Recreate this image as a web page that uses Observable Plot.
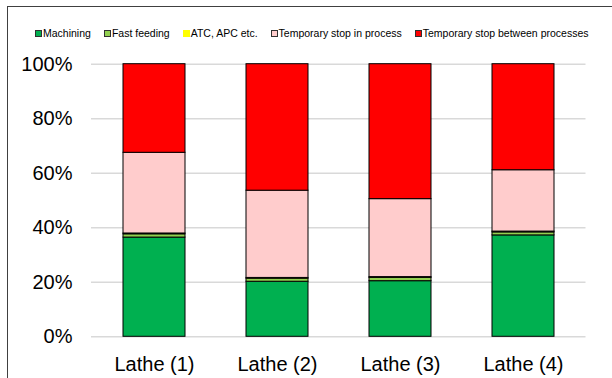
<!DOCTYPE html>
<html>
<head>
<meta charset="utf-8">
<script src="https://cdn.jsdelivr.net/npm/d3@7"></script>
<script src="https://cdn.jsdelivr.net/npm/@observablehq/plot@0.6"></script>
<style>
  html, body { margin: 0; padding: 0; background: #fff; }
  #wrap { position: relative; width: 612px; height: 378px; overflow: hidden; font-family: "Liberation Sans", Arial, sans-serif; }
  #frame { position: absolute; left: 7px; top: 6px; width: 640px; height: 400px; border: 1px solid #404040; box-sizing: border-box; }
  #legend { position: absolute; left: 35px; top: 26px; height: 14px; display: flex; align-items: center; gap: 13px; font-size: 10.5px; color: #000; white-space: nowrap; }
  .item { display: flex; align-items: center; }
  .sw { width: 5px; height: 5px; border: 1px solid #303030; margin-right: 1px; }
  .sw.noedge { border: none; width: 7px; height: 7px; }
  #chart { position: absolute; left: 0; top: 45px; }
</style>
</head>
<body>
<div id="wrap">
  <div id="frame"></div>
  <div id="legend"></div>
  <div id="chart"></div>
</div>
<script>
// Share of machine time per lathe, in percent of the total
const categories = ["Lathe (1)", "Lathe (2)", "Lathe (3)", "Lathe (4)"];
const seriesNames = [
  "Machining",
  "Fast feeding",
  "ATC, APC etc.",
  "Temporary stop in process",
  "Temporary stop between processes"
];
const machining     = [36.4, 20.2, 20.4, 37.2];
const fastFeeding   = [1.2, 1.1, 1.2, 1.1];
const atcApc        = [0.3, 0.3, 0.3, 0.3];
const stopInProcess = [29.6, 32.0, 28.6, 22.5];
const stopBetween   = [32.5, 46.4, 49.5, 38.9];
const seriesColors  = ["#00B050", "#92D050", "#FFFF00", "#FFCCCC", "#FF0000"];
const yTicks = [0, 20, 40, 60, 80, 100];

const seriesValues = [machining, fastFeeding, atcApc, stopInProcess, stopBetween];

// Long-format rows, stacked bottom-up in series order
const rows = [];
categories.forEach((cat, i) => {
  seriesNames.forEach((s, j) => {
    rows.push({category: cat, series: s, value: seriesValues[j][i]});
  });
});

// Legend row
const legend = document.getElementById("legend");
seriesNames.forEach((s, j) => {
  const item = document.createElement("div");
  item.className = "item";
  const sw = document.createElement("span");
  sw.className = "sw" + (s === "ATC, APC etc." ? " noedge" : "");
  sw.style.background = seriesColors[j];
  const label = document.createElement("span");
  label.textContent = s;
  item.appendChild(sw);
  item.appendChild(label);
  legend.appendChild(item);
});

const chart = Plot.plot({
  width: 612,
  height: 333,
  marginTop: 18.7,
  marginBottom: 41.7,
  marginLeft: 91,
  marginRight: 26.5,
  style: {fontFamily: "'Liberation Sans', Arial, sans-serif", fontSize: "20px", color: "#000", background: "transparent"},
  x: {domain: categories, paddingInner: 0.5, paddingOuter: 0.25, label: null},
  y: {domain: [0, 100], label: null},
  color: {domain: seriesNames, range: seriesColors},
  marks: [
    Plot.gridY(yTicks, {stroke: "#d9d9d9", strokeOpacity: 1, strokeWidth: 1.6}),
    Plot.barY(rows, Plot.stackY({
      x: "category",
      y: "value",
      z: "series",
      fill: "series",
      order: seriesNames,
      stroke: "#000",
      strokeWidth: 1
    })),
    Plot.axisY(yTicks, {tickSize: 0, tickPadding: 19, tickFormat: d => d + "%", fontSize: 20, label: null}),
    Plot.axisX({tickSize: 0, tickPadding: 20, fontSize: 20, label: null})
  ]
});
document.getElementById("chart").appendChild(chart);
</script>
</body>
</html>
